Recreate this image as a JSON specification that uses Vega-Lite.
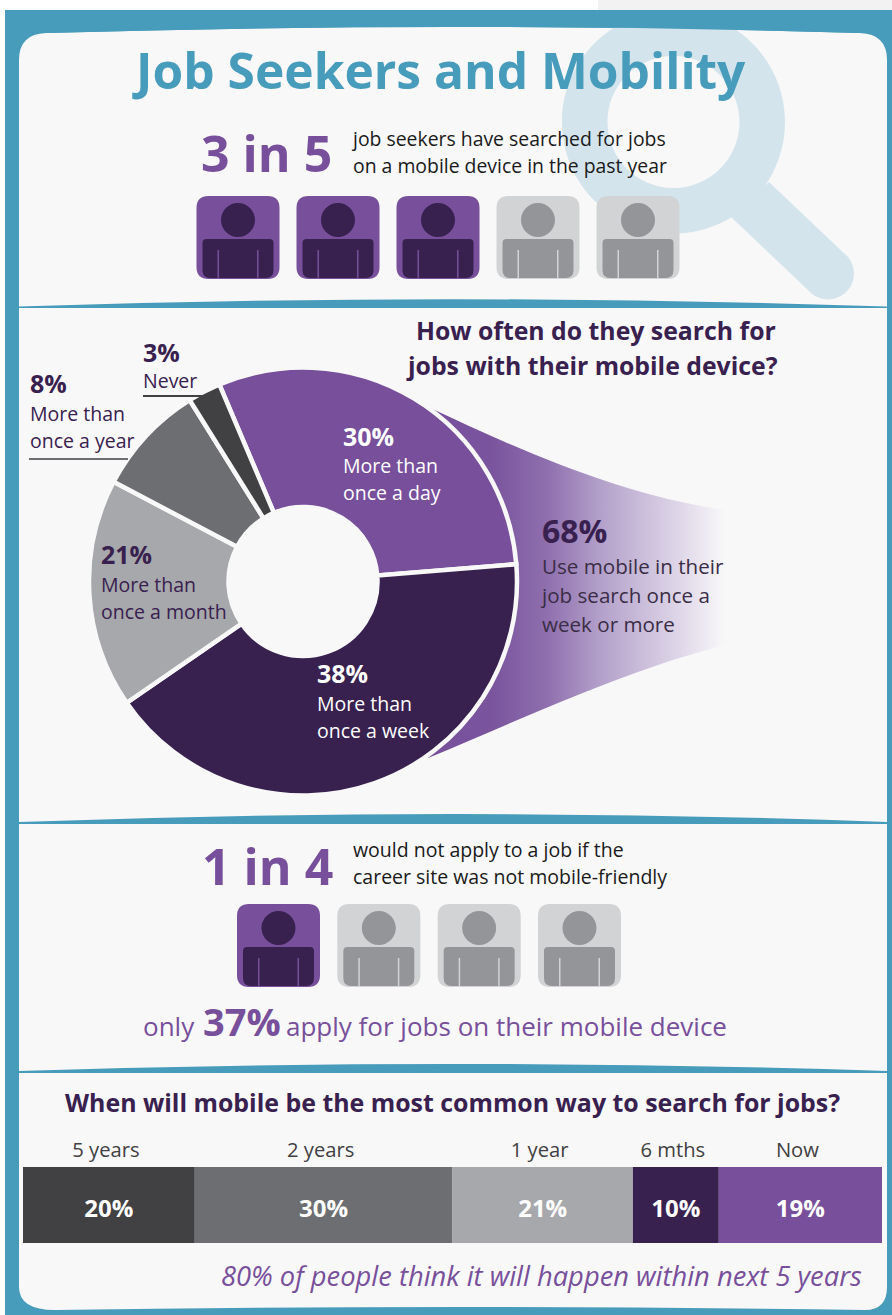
{
"$schema":"https://vega.github.io/schema/vega-lite/v6.json",
"width":892,"height":1315,"autosize":{"type":"none"},"padding":0,"background":"#ffffff",
"config":{"view":{"stroke":null},"text":{"font":"Open Sans","align":"left","baseline":"alphabetic","lineBreak":"\n"},"point":{"opacity":1,"filled":true,"strokeWidth":0}},
"datasets":{
"blank":[{}],
"firstStat":[{"seat":1,"state":"yes"},{"seat":2,"state":"yes"},{"seat":3,"state":"yes"},{"seat":4,"state":"no"},{"seat":5,"state":"no"}],
"secondStat":[{"seat":1,"state":"yes"},{"seat":2,"state":"no"},{"seat":3,"state":"no"},{"seat":4,"state":"no"}],
"frequency":[
{"rank":1,"segment":"More than\nonce a day","label":"30%","drawnShare":30.1},
{"rank":2,"segment":"More than\nonce a week","label":"38%","drawnShare":41.7},
{"rank":3,"segment":"More than\nonce a month","label":"21%","drawnShare":17.3},
{"rank":4,"segment":"More than\nonce a year","label":"8%","drawnShare":8.4},
{"rank":5,"segment":"Never","label":"3%","drawnShare":2.5}],
"horizon":[
{"rank":1,"when":"5 years","share":20,"label":"20%"},
{"rank":2,"when":"2 years","share":30,"label":"30%"},
{"rank":3,"when":"1 year","share":21,"label":"21%"},
{"rank":4,"when":"6 mths","share":10,"label":"10%"},
{"rank":5,"when":"Now","share":19,"label":"19%"}]
},
"resolve":{"scale":{"x":"independent","y":"independent","color":"independent","theta":"independent"}},
"layer":[
{"data":{"name":"blank"},"mark":{"type":"point","x":0,"y":0,"size":4,"fill":"#f2f2f2","shape":"M598 0 H892 V10 H598 Z"},"encoding":{}},
{"data":{"name":"blank"},"mark":{"type":"point","x":0,"y":0,"size":4,"fill":"#479bbb","shape":"M5 10 H892 V1315 H5 Z"},"encoding":{}},
{"data":{"name":"blank"},"mark":{"type":"point","x":0,"y":0,"size":4,"fill":"#f8f8f8","shape":"M19 60 Q19 34 46 33 Q453 21 860 33 Q887 34 887 60 V1287 Q887 1310 865 1310 Q453 1304 55 1310 Q19 1310 19 1287 Z"},"encoding":{}},
{"data":{"name":"blank"},"mark":{"type":"point","x":0,"y":0,"size":4,"fill":"#d4e4ec","shape":"M562 122 A111.5 111.5 0 1 1 785 122 A111.5 111.5 0 1 1 562 122 Z M607.5 122 A66 66 0 1 0 739.5 122 A66 66 0 1 0 607.5 122 Z M769 182 L848 257 A25 25 0 0 1 808 290 L731 217 Z"},"encoding":{}},
{"data":{"name":"blank"},"mark":{"type":"point","x":0,"y":0,"size":4,"fill":"#479bbb","shape":"M46 33 Q453 21 860 33 V10 H46 Z M19 306.5 Q453 292 887 306.5 V308 H19 Z M19 822 Q453 806 887 822 V824 H19 Z M19 1071 Q453 1057 887 1071 V1073 H19 Z"},"encoding":{}},

{"data":{"name":"blank"},"mark":{"type":"text","x":136,"y":89,"text":"Job Seekers and Mobility","fontSize":49.7,"fontWeight":700,"fill":"#479bbb"},"encoding":{}},
{"data":{"name":"blank"},"mark":{"type":"text","x":201,"y":172,"text":"3 in 5","fontSize":50,"fontWeight":700,"fill":"#774f9b"},"encoding":{}},
{"data":{"name":"blank"},"mark":{"type":"text","x":353,"y":146,"lineHeight":27,"text":"job seekers have searched for jobs\non a mobile device in the past year","fontSize":19.4,"fill":"#1a1a1a"},"encoding":{}},

{"data":{"name":"firstStat"},"mark":{"type":"point","y":237.5,"size":4,"shape":"M-29.5 -41.5 H29.5 Q41.5 -41.5 41.5 -29.5 V29.5 Q41.5 41.5 29.5 41.5 H-29.5 Q-41.5 41.5 -41.5 29.5 V-29.5 Q-41.5 -41.5 -29.5 -41.5 Z"},
"encoding":{"x":{"field":"seat","type":"ordinal","axis":null,"scale":{"type":"point","domain":[1,2,3,4,5],"range":[238,638],"padding":0}},"color":{"field":"state","type":"nominal","legend":null,"scale":{"domain":["yes","no"],"range":["#774f9b","#d1d3d4"]}}}},
{"data":{"name":"firstStat"},"mark":{"type":"point","y":237.5,"size":4,"shape":"M-17 -17.5 A17 17 0 1 1 17 -17.5 A17 17 0 1 1 -17 -17.5 Z M-31.5 1.5 H31.5 Q35.5 1.5 35.5 5.5 V32.5 Q35.5 40.5 27.5 40.5 H20.5 V12.5 H19 V40.5 H-19 V12.5 H-20.5 V40.5 H-27.5 Q-35.5 40.5 -35.5 32.5 V5.5 Q-35.5 1.5 -31.5 1.5 Z"},
"encoding":{"x":{"field":"seat","type":"ordinal","axis":null,"scale":{"type":"point","domain":[1,2,3,4,5],"range":[238,638],"padding":0}},"color":{"field":"state","type":"nominal","legend":null,"scale":{"domain":["yes","no"],"range":["#38204f","#939598"]}}}},

{"data":{"name":"blank"},"mark":{"type":"text","x":416,"y":340,"text":"How often do they search for","fontSize":24.8,"fontWeight":700,"fill":"#38204f"},"encoding":{}},
{"data":{"name":"blank"},"mark":{"type":"text","x":408,"y":375,"text":"jobs with their mobile device?","fontSize":24.8,"fontWeight":700,"fill":"#38204f"},"encoding":{}},

{"data":{"name":"blank"},"mark":{"type":"point","x":0,"y":0,"size":4,"fill":{"gradient":"linear","x1":0,"y1":0,"x2":1,"y2":0,"stops":[{"offset":0,"color":"#774f9b"},{"offset":0.22,"color":"#7a559e"},{"offset":0.4,"color":"#8f6fae"},{"offset":0.58,"color":"#b3a0ca"},{"offset":0.92,"color":"#ebe6f1"},{"offset":1,"color":"#f8f8f8"}]},"shape":"M428 407 C520 450 620 495 725 510 L725 645 C620 672 520 720 428 758 Z"},"encoding":{}},

{"data":{"name":"frequency"},"mark":{"type":"arc","x":303,"y":581.5,"radius":214,"radius2":74.5,"stroke":"#f8f8f8","strokeWidth":4.5},
"encoding":{"theta":{"field":"drawnShare","type":"quantitative","stack":"zero","scale":{"domain":[0,100],"range":[-0.4014,5.8818]}},"order":{"field":"rank"},"color":{"field":"rank","type":"nominal","legend":null,"scale":{"domain":[1,2,3,4,5],"range":["#774f9b","#38204f","#a7a8ab","#6d6e71","#414042"]}}}},

{"data":{"name":"frequency"},"transform":[{"filter":"datum.rank==1"}],"mark":{"type":"text","x":343,"y":446,"fontSize":25,"fontWeight":700,"fill":"#ffffff"},"encoding":{"text":{"field":"label"}}},
{"data":{"name":"frequency"},"transform":[{"filter":"datum.rank==1"}],"mark":{"type":"text","x":343,"y":473,"lineHeight":27,"fontSize":19.5,"fill":"#ffffff"},"encoding":{"text":{"field":"segment"}}},
{"data":{"name":"frequency"},"transform":[{"filter":"datum.rank==2"}],"mark":{"type":"text","x":317,"y":683,"fontSize":25,"fontWeight":700,"fill":"#ffffff"},"encoding":{"text":{"field":"label"}}},
{"data":{"name":"frequency"},"transform":[{"filter":"datum.rank==2"}],"mark":{"type":"text","x":317,"y":711,"lineHeight":27,"fontSize":19.5,"fill":"#ffffff"},"encoding":{"text":{"field":"segment"}}},
{"data":{"name":"frequency"},"transform":[{"filter":"datum.rank==3"}],"mark":{"type":"text","x":101,"y":564,"fontSize":25,"fontWeight":700,"fill":"#38204f"},"encoding":{"text":{"field":"label"}}},
{"data":{"name":"frequency"},"transform":[{"filter":"datum.rank==3"}],"mark":{"type":"text","x":101,"y":592,"lineHeight":27,"fontSize":19.5,"fill":"#38204f"},"encoding":{"text":{"field":"segment"}}},
{"data":{"name":"frequency"},"transform":[{"filter":"datum.rank==4"}],"mark":{"type":"text","x":30,"y":393,"fontSize":25,"fontWeight":700,"fill":"#38204f"},"encoding":{"text":{"field":"label"}}},
{"data":{"name":"frequency"},"transform":[{"filter":"datum.rank==4"}],"mark":{"type":"text","x":30,"y":421,"lineHeight":27,"fontSize":19.5,"fill":"#38204f"},"encoding":{"text":{"field":"segment"}}},
{"data":{"name":"frequency"},"transform":[{"filter":"datum.rank==5"}],"mark":{"type":"text","x":143,"y":362,"fontSize":25,"fontWeight":700,"fill":"#38204f"},"encoding":{"text":{"field":"label"}}},
{"data":{"name":"frequency"},"transform":[{"filter":"datum.rank==5"}],"mark":{"type":"text","x":143,"y":388,"fontSize":19.5,"fill":"#38204f"},"encoding":{"text":{"field":"segment"}}},
{"data":{"name":"blank"},"mark":{"type":"point","x":0,"y":0,"size":4,"fill":"#414042","shape":"M143 395 H205 V397 H143 Z"},"encoding":{}},
{"data":{"name":"blank"},"mark":{"type":"point","x":0,"y":0,"size":4,"fill":"#6d6e71","shape":"M29 458 H128 V460 H29 Z"},"encoding":{}},

{"data":{"name":"blank"},"mark":{"type":"text","x":542,"y":543,"text":"68%","fontSize":32,"fontWeight":700,"fill":"#38204f"},"encoding":{}},
{"data":{"name":"blank"},"mark":{"type":"text","x":542,"y":574,"lineHeight":29,"text":"Use mobile in their\njob search once a\nweek or more","fontSize":20.6,"fill":"#3a2d45"},"encoding":{}},

{"data":{"name":"blank"},"mark":{"type":"text","x":202,"y":885,"text":"1 in 4","fontSize":50,"fontWeight":700,"fill":"#774f9b"},"encoding":{}},
{"data":{"name":"blank"},"mark":{"type":"text","x":353,"y":857,"lineHeight":27,"text":"would not apply to a job if the\ncareer site was not mobile-friendly","fontSize":19.5,"fill":"#1a1a1a"},"encoding":{}},

{"data":{"name":"secondStat"},"mark":{"type":"point","y":945.5,"size":4,"shape":"M-29.5 -41.5 H29.5 Q41.5 -41.5 41.5 -29.5 V29.5 Q41.5 41.5 29.5 41.5 H-29.5 Q-41.5 41.5 -41.5 29.5 V-29.5 Q-41.5 -41.5 -29.5 -41.5 Z"},
"encoding":{"x":{"field":"seat","type":"ordinal","axis":null,"scale":{"type":"point","domain":[1,2,3,4],"range":[278.5,579.5],"padding":0}},"color":{"field":"state","type":"nominal","legend":null,"scale":{"domain":["yes","no"],"range":["#774f9b","#d1d3d4"]}}}},
{"data":{"name":"secondStat"},"mark":{"type":"point","y":945.5,"size":4,"shape":"M-17 -17.5 A17 17 0 1 1 17 -17.5 A17 17 0 1 1 -17 -17.5 Z M-31.5 1.5 H31.5 Q35.5 1.5 35.5 5.5 V32.5 Q35.5 40.5 27.5 40.5 H20.5 V12.5 H19 V40.5 H-19 V12.5 H-20.5 V40.5 H-27.5 Q-35.5 40.5 -35.5 32.5 V5.5 Q-35.5 1.5 -31.5 1.5 Z"},
"encoding":{"x":{"field":"seat","type":"ordinal","axis":null,"scale":{"type":"point","domain":[1,2,3,4],"range":[278.5,579.5],"padding":0}},"color":{"field":"state","type":"nominal","legend":null,"scale":{"domain":["yes","no"],"range":["#38204f","#939598"]}}}},

{"data":{"name":"blank"},"mark":{"type":"text","x":143,"y":1036,"text":"only","fontSize":26,"fill":"#774f9b"},"encoding":{}},
{"data":{"name":"blank"},"mark":{"type":"text","x":203,"y":1036,"text":"37%","fontSize":38,"fontWeight":700,"fill":"#774f9b"},"encoding":{}},
{"data":{"name":"blank"},"mark":{"type":"text","x":286,"y":1036,"text":"apply for jobs on their mobile device","fontSize":26,"fill":"#774f9b"},"encoding":{}},

{"data":{"name":"blank"},"mark":{"type":"text","x":65,"y":1112,"text":"When will mobile be the most common way to search for jobs?","fontSize":24.9,"fontWeight":700,"fill":"#38204f"},"encoding":{}},

{"data":{"name":"horizon"},"mark":{"type":"bar"},
"encoding":{"x":{"field":"share","type":"quantitative","stack":"zero","axis":null,"scale":{"domain":[0,100],"range":[23,882]}},"y":{"datum":"horizon","type":"nominal","axis":null,"scale":{"type":"band","domain":["horizon"],"range":[1167,1243],"paddingInner":0,"paddingOuter":0}},"order":{"field":"rank"},"color":{"field":"rank","type":"nominal","legend":null,"scale":{"domain":[1,2,3,4,5],"range":["#414042","#6d6e71","#a7a8ab","#38204f","#774f9b"]}}}},
{"data":{"name":"horizon"},"transform":[{"stack":"share","groupby":[],"sort":[{"field":"rank"}],"as":["start","end"]},{"calculate":"(datum.start+datum.end)/2","as":"middle"}],"mark":{"type":"text","y":1217,"align":"center","fontSize":24,"fontWeight":700,"fill":"#ffffff"},
"encoding":{"x":{"field":"middle","type":"quantitative","axis":null,"scale":{"domain":[0,100],"range":[23,882]}},"text":{"field":"label"}}},
{"data":{"name":"horizon"},"transform":[{"stack":"share","groupby":[],"sort":[{"field":"rank"}],"as":["start","end"]},{"calculate":"(datum.start+datum.end)/2","as":"middle"}],"mark":{"type":"text","y":1157,"dx":-3,"align":"center","fontSize":20.2,"fill":"#414042"},
"encoding":{"x":{"field":"middle","type":"quantitative","axis":null,"scale":{"domain":[0,100],"range":[23,882]}},"text":{"field":"when"}}},
{"data":{"name":"blank"},"mark":{"type":"text","x":221,"y":1286,"text":"80% of people think it will happen within next 5 years","fontSize":27.3,"fontStyle":"italic","fill":"#774f9b"},"encoding":{}}
]
}
